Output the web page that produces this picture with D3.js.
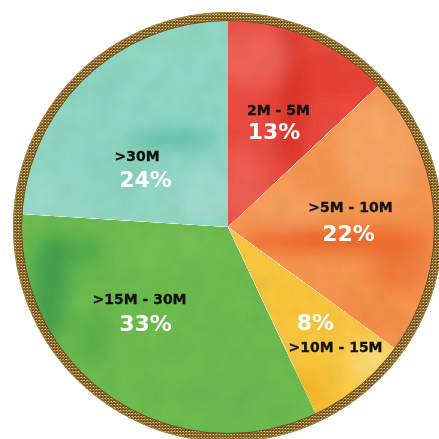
<!DOCTYPE html>
<html>
<head>
<meta charset="utf-8">
<script src="https://cdn.jsdelivr.net/npm/d3@7"></script>
<style>
  html, body { margin: 0; padding: 0; background: #ffffff; }
  svg { display: block; }
  text { font-family: "DejaVu Sans", sans-serif; font-weight: bold; }
</style>
</head>
<body>
<svg id="chart" width="439" height="439"></svg>
<script>
// Share of entries by size band, clockwise from 12 o'clock
const categories = ["2M - 5M", ">5M - 10M", ">10M - 15M", ">15M - 30M", ">30M"];
const shares = [13, 22, 8, 33, 24];
const percentLabels = ["13%", "22%", "8%", "33%", "24%"];

// Paint colours for each band
const baseColors = ["#e8493f", "#f2944f", "#f5c43f", "#6bb94e", "#8fd4c1"];

// Where each label block sits, relative to the pie centre (label line, percent line)
const labelPlacement = [
  { lx: 50.5, ly: -112, px: 46, py: -88 },
  { lx: 122.5, ly: -15, px: 120.5, py: 14 },
  { lx: 107.5, ly: 125, px: 87.5, py: 103 },
  { lx: -88.5, ly: 77, px: -82.5, py: 104 },
  { lx: -91, ly: -66, px: -82.5, py: -40 }
];

// Soft watercolour washes laid inside each slice
const washes = [
  [
    { x: 65, y: -130, rx: 14, ry: 75, c: "#d2281f", o: 0.7 },
    { x: 22, y: -170, rx: 40, ry: 30, c: "#ee7062", o: 0.6 },
    { x: 15, y: -40, rx: 25, ry: 40, c: "#ea6a5c", o: 0.6 },
    { x: 110, y: -150, rx: 40, ry: 25, c: "#e2352e", o: 0.5 }
  ],
  [
    { x: 150, y: -80, rx: 40, ry: 50, c: "#f5a86c", o: 0.7 },
    { x: 110, y: 13, rx: 100, ry: 11, c: "#e9581f", o: 0.85 },
    { x: 170, y: 40, rx: 30, ry: 25, c: "#ec6a2e", o: 0.6 },
    { x: 60, y: -20, rx: 40, ry: 20, c: "#f4a267", o: 0.6 },
    { x: 140, y: 90, rx: 40, ry: 25, c: "#f0843d", o: 0.5 }
  ],
  [
    { x: 150, y: 135, rx: 30, ry: 25, c: "#f8da7e", o: 0.8 },
    { x: 75, y: 170, rx: 25, ry: 30, c: "#efb01c", o: 0.7 },
    { x: 70, y: 80, rx: 25, ry: 20, c: "#f3bb2e", o: 0.5 }
  ],
  [
    { x: -178, y: 60, rx: 18, ry: 55, c: "#33944a", o: 0.7 },
    { x: -150, y: 25, rx: 30, ry: 14, c: "#3d9c48", o: 0.6 },
    { x: -135, y: 110, rx: 14, ry: 30, c: "#45a048", o: 0.5 },
    { x: -60, y: 20, rx: 60, ry: 20, c: "#7ac158", o: 0.5 },
    { x: 10, y: 170, rx: 50, ry: 30, c: "#66b54d", o: 0.5 }
  ],
  [
    { x: -55, y: -88, rx: 45, ry: 10, c: "#4fb89b", o: 0.75 },
    { x: -20, y: -30, rx: 30, ry: 25, c: "#a4dccd", o: 0.7 },
    { x: -140, y: -150, rx: 40, ry: 30, c: "#86cfbb", o: 0.6 },
    { x: -180, y: -20, rx: 25, ry: 30, c: "#9bd8c8", o: 0.6 },
    { x: -110, y: -60, rx: 30, ry: 20, c: "#7ccab4", o: 0.5 }
  ]
];

const width = 439, height = 439;
const cx = 228, cy = 227;
const innerR = 206;       // painted area
const ringR = 210.5;      // centre line of the gilded rim
const ringW = 9;

const svg = d3.select("#chart");
const defs = svg.append("defs");

// blur for washes
defs.append("filter").attr("id", "wash")
  .attr("x", "-50%").attr("y", "-50%").attr("width", "200%").attr("height", "200%")
  .append("feGaussianBlur").attr("stdDeviation", 9);

// paper grain: modulate brightness with fractal noise
const grain = defs.append("filter").attr("id", "grain")
  .attr("x", 0).attr("y", 0).attr("width", "100%").attr("height", "100%");
grain.append("feTurbulence").attr("type", "fractalNoise")
  .attr("baseFrequency", 0.045).attr("numOctaves", 4).attr("seed", 7).attr("result", "noise");
grain.append("feColorMatrix").attr("in", "noise").attr("type", "matrix")
  .attr("values", "0.33 0.33 0.33 0 0  0.33 0.33 0.33 0 0  0.33 0.33 0.33 0 0  0 0 0 0 1")
  .attr("result", "gray");
grain.append("feComposite").attr("in", "SourceGraphic").attr("in2", "gray")
  .attr("operator", "arithmetic")
  .attr("k1", 0.26).attr("k2", 0.87).attr("k3", 0).attr("k4", 0)
  .attr("result", "mod");
grain.append("feComposite").attr("in", "mod").attr("in2", "SourceGraphic").attr("operator", "in");

// gilded rim texture
const rimPat = defs.append("pattern").attr("id", "rim")
  .attr("patternUnits", "userSpaceOnUse").attr("width", 3).attr("height", 3);
rimPat.append("rect").attr("width", 3).attr("height", 3).attr("fill", "#80602a");
rimPat.append("rect").attr("x", 0).attr("y", 0).attr("width", 1).attr("height", 1).attr("fill", "#d9bf80");
rimPat.append("rect").attr("x", 1).attr("y", 1).attr("width", 1).attr("height", 1).attr("fill", "#a8863f");
rimPat.append("rect").attr("x", 2).attr("y", 2).attr("width", 1).attr("height", 1).attr("fill", "#5e4217");
rimPat.append("rect").attr("x", 2).attr("y", 0).attr("width", 1).attr("height", 1).attr("fill", "#b99a55");

const pie = d3.pie().value(d => d).sort(null);
const arcs = pie(shares);
const arc = d3.arc().innerRadius(0).outerRadius(innerR + 1);

// clip paths per slice
arcs.forEach((a, i) => {
  defs.append("clipPath").attr("id", "slice" + i)
    .append("path").attr("d", arc(a));
});

const g = svg.append("g").attr("transform", `translate(${cx},${cy})`);
const paint = g.append("g").attr("filter", "url(#grain)");

const slices = paint.selectAll("g.slice").data(arcs).join("g")
  .attr("class", "slice")
  .attr("clip-path", (d, i) => `url(#slice${i})`);

slices.append("path")
  .attr("d", arc)
  .attr("fill", (d, i) => baseColors[i]);

slices.each(function (d, i) {
  d3.select(this).append("g").attr("filter", "url(#wash)")
    .selectAll("ellipse").data(washes[i]).join("ellipse")
    .attr("cx", w => w.x).attr("cy", w => w.y)
    .attr("rx", w => w.rx).attr("ry", w => w.ry)
    .attr("fill", w => w.c).attr("fill-opacity", w => w.o);
});

// gilded rim
g.append("circle").attr("r", ringR)
  .attr("fill", "none").attr("stroke", "url(#rim)").attr("stroke-width", ringW);
g.append("circle").attr("r", ringR + ringW / 2 - 0.5)
  .attr("fill", "none").attr("stroke", "#b08c44").attr("stroke-width", 1).attr("stroke-opacity", 0.8);
g.append("circle").attr("r", ringR - ringW / 2 + 0.5)
  .attr("fill", "none").attr("stroke", "#6a4b1a").attr("stroke-width", 1).attr("stroke-opacity", 0.8);

// labels
const labels = g.selectAll("g.label").data(arcs).join("g").attr("class", "label");
labels.append("text")
  .attr("x", (d, i) => labelPlacement[i].lx)
  .attr("y", (d, i) => labelPlacement[i].ly)
  .attr("text-anchor", "middle")
  .attr("font-size", 14)
  .attr("fill", "#111111")
  .attr("stroke", "#111111").attr("stroke-width", 0.3)
  .text((d, i) => categories[i]);
labels.append("text")
  .attr("x", (d, i) => labelPlacement[i].px)
  .attr("y", (d, i) => labelPlacement[i].py)
  .attr("text-anchor", "middle")
  .attr("font-size", 22)
  .attr("fill", "#ffffff")
  .text((d, i) => percentLabels[i]);
</script>
</body>
</html>
